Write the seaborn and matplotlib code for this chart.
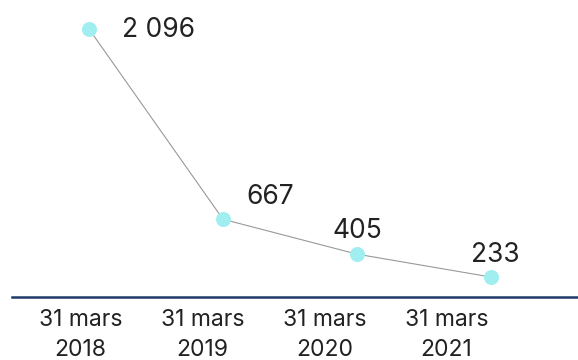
import pandas as pd
import matplotlib.pyplot as plt
import seaborn as sns

dates = ["31 mars\n2018", "31 mars\n2019", "31 mars\n2020", "31 mars\n2021"]
values = [2096, 667, 405, 233]
labels = ["2 096", "667", "405", "233"]

df = pd.DataFrame({"pos": range(len(values)), "value": values})

sns.set_style("white")
plt.rcParams['font.family'] = ['Inter', 'DejaVu Sans']

fig = plt.figure(figsize=(5.78, 3.6), dpi=100)
ax = fig.add_axes([12 / 578, 63 / 360, 566 / 578, 297 / 360])

sns.lineplot(data=df, x="pos", y="value", ax=ax, color="#999999", linewidth=0.8,
             marker="o", markersize=10, markerfacecolor="#a0eef0",
             markeredgecolor="#a0eef0")

# label offsets (points) and alignment
offsets = [(24, -1), (17, 16), (0, 17), (3, 16)]
aligns = ["left", "left", "center", "center"]
for i, (v, lab) in enumerate(zip(values, labels)):
    ax.annotate(lab, (i, v), xytext=offsets[i], textcoords="offset points",
                ha=aligns[i], va="center", fontsize=19, color="#222222")

ax.set_xlim(-0.575, 3.65)
ax.set_ylim(83, 2314)
ax.set_xticks([-0.063 + 0.9105 * i for i in range(len(dates))])
ax.set_xticklabels(dates, fontsize=16.5, color="#222222", linespacing=1.45)
ax.tick_params(axis="x", length=0, pad=9)
ax.set_yticks([])
ax.set_xlabel("")
ax.set_ylabel("")

for s in ["top", "right", "left"]:
    ax.spines[s].set_visible(False)
ax.spines["bottom"].set_color("#1f3a68")
ax.spines["bottom"].set_linewidth(1.8)

fig.savefig("out.png", dpi=100)
